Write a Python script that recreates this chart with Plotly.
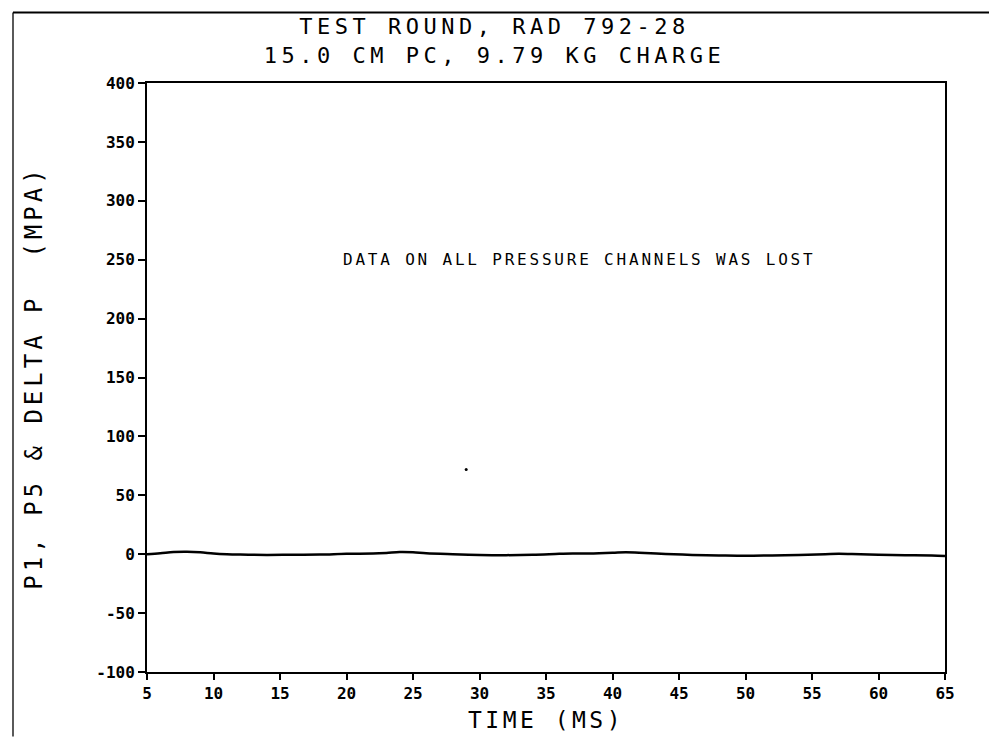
import plotly.graph_objects as go

# ---- data ----
time_ms = [5, 6, 7, 8, 9, 10, 11, 12, 14, 16, 18, 20, 22, 23, 24, 25, 26, 28, 30, 32, 34,
           36, 37, 38, 40, 41, 42, 44, 46, 48, 50, 52, 54, 56, 57, 58, 60, 62, 64, 65]
pressure = [0.0, 0.8, 1.8, 2.0, 1.6, 0.6, 0.0, -0.3, -0.6, -0.4, -0.3, 0.3, 0.5, 1.0, 1.8, 1.6,
            0.8, 0.0, -0.6, -0.8, -0.5, 0.3, 0.6, 0.5, 1.2, 1.6, 1.2, 0.2, -0.6, -1.0, -1.3,
            -1.0, -0.6, 0.0, 0.3, 0.1, -0.5, -0.8, -1.2, -1.6]
stray_x = [29.0]
stray_y = [72.0]

x_ticks = [5, 10, 15, 20, 25, 30, 35, 40, 45, 50, 55, 60, 65]
y_ticks = [-100, -50, 0, 50, 100, 150, 200, 250, 300, 350, 400]

title_lines = ["TEST ROUND, RAD 792-28", "15.0 CM PC, 9.79 KG CHARGE"]
x_title = "TIME (MS)"
y_title = "P1, P5 & DELTA P  (MPA)"
note = "DATA ON ALL PRESSURE CHANNELS WAS LOST"
note_x, note_y = 37.5, 250

MONO = "DejaVu Sans Mono"


def spaced(s, px):
    return f'<span style="letter-spacing:{px}px">{s}</span>'


fig = go.Figure()
fig.add_trace(go.Scatter(x=time_ms, y=pressure, mode="lines",
                         line=dict(color="black", width=2.5), line_shape="spline",
                         showlegend=False, hoverinfo="skip"))
fig.add_trace(go.Scatter(x=stray_x, y=stray_y, mode="markers",
                         marker=dict(color="black", size=3), showlegend=False,
                         hoverinfo="skip"))

fig.add_annotation(x=note_x, y=note_y, xref="x", yref="y", text=spaced(note, 2.8),
                   showarrow=False, font=dict(family=MONO, size=16, color="black"),
                   xanchor="center", yanchor="middle")

# page frame (scan border)
L, R, T, B = 147, 44, 83, 65
W, H = 989, 741
pw, ph = W - L - R, H - T - B
def px_x(px):
    return (px - L) / pw
def px_y(py):
    return (H - B - py) / ph

fig.add_shape(type="line", xref="paper", yref="paper",
              x0=px_x(13), x1=px_x(989), y0=px_y(12), y1=px_y(12),
              line=dict(color="black", width=2))
fig.add_shape(type="line", xref="paper", yref="paper",
              x0=px_x(13), x1=px_x(13), y0=px_y(12), y1=px_y(741),
              line=dict(color="black", width=1.3))

fig.update_layout(
    width=W, height=H,
    margin=dict(l=L, r=R, t=T, b=B),
    paper_bgcolor="white", plot_bgcolor="white",
    title=dict(text="<br>".join(spaced(t, 4.5) for t in title_lines),
               x=0.5, xref="container", xanchor="center",
               y=1 - 34 / H, yref="container", yanchor="top",
               font=dict(family=MONO, size=22, color="black")),
    xaxis=dict(range=[5, 65], tickvals=x_ticks, ticktext=[str(v) for v in x_ticks],
               ticks="outside", ticklen=6, tickwidth=1.5, tickcolor="black",
               showline=True, linecolor="black", linewidth=2, mirror=True,
               showgrid=False, zeroline=False,
               tickfont=dict(family=MONO, size=16, color="black", weight="bold"),
               title=dict(text=spaced(x_title, 3.5), standoff=10,
                          font=dict(family=MONO, size=23, color="black"))),
    yaxis=dict(range=[-100, 400], tickvals=y_ticks, ticktext=[str(v) for v in y_ticks],
               ticks="outside", ticklen=7, tickwidth=1.5, tickcolor="black",
               showline=True, linecolor="black", linewidth=2, mirror=True,
               showgrid=False, zeroline=False,
               tickfont=dict(family=MONO, size=16, color="black", weight="bold"),
               title=dict(text=spaced(y_title, 4), standoff=47,
                          font=dict(family=MONO, size=24, color="black"))),
)

fig.write_html("out.html")
